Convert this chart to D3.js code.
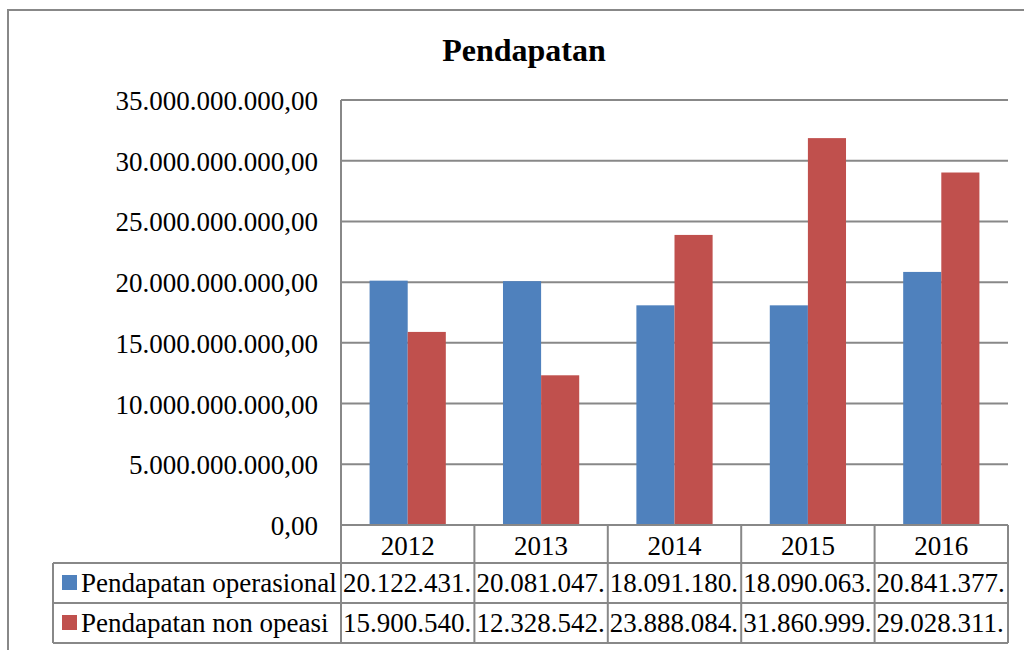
<!DOCTYPE html>
<html>
<head>
<meta charset="utf-8">
<script src="https://cdn.jsdelivr.net/npm/d3@7"></script>
<style>
  body { margin: 0; background: #fff; }
</style>
</head>
<body>
<script>
// chart data
var years = ["2012", "2013", "2014", "2015", "2016"];
var seriesNames = ["Pendapatan operasional", "Pendapatan non opeasi"];
var operasional = [20122431000, 20081047000, 18091180000, 18090063000, 20841377000];
var nonOperasi = [15900540000, 12328542000, 23888084000, 31860999000, 29028311000];
var yTicks = [0, 5e9, 10e9, 15e9, 20e9, 25e9, 30e9, 35e9];
var colors = ["#4F81BD", "#C0504D"];

var width = 1024, height = 650;
var plotLeft = 341, plotRight = 1008, plotTop = 100, plotBottom = 525;
var headH = 38, rowH = 40, labelLeft = 53;
var fs = "27px";

var svg = d3.select("body").append("svg")
    .attr("width", width)
    .attr("height", height)
    .attr("font-family", "'Liberation Serif', 'Times New Roman', serif");

// outer chart border (runs off right/bottom edge)
svg.append("rect")
    .attr("x", 8).attr("y", 10)
    .attr("width", 1040).attr("height", 660)
    .attr("fill", "#fff")
    .attr("stroke", "#888").attr("stroke-width", 2);

svg.append("text")
    .attr("x", 524).attr("y", 61)
    .attr("text-anchor", "middle")
    .style("font-size", "32px").style("font-weight", "bold")
    .text("Pendapatan");

var x = d3.scaleBand().domain(years).range([plotLeft, plotRight]);
var x1 = d3.scaleBand().domain([0, 1]).range([0, x.bandwidth()]).paddingOuter(0.75).paddingInner(0);
var y = d3.scaleLinear().domain([0, 35e9]).range([plotBottom, plotTop]);

// number format like 5.000.000.000,00
var idFormat = d3.formatLocale({decimal: ",", thousands: ".", grouping: [3], currency: ["", ""]}).format(",.2f");

// gridlines
svg.append("g").selectAll("line")
    .data(yTicks)
    .join("line")
    .attr("x1", plotLeft).attr("x2", plotRight)
    .attr("y1", function(d){ return y(d); })
    .attr("y2", function(d){ return y(d); })
    .attr("stroke", "#888").attr("stroke-width", 2);

// y axis labels
svg.append("g").selectAll("text")
    .data(yTicks)
    .join("text")
    .attr("x", 318)
    .attr("y", function(d){ return y(d) + 10; })
    .attr("text-anchor", "end")
    .style("font-size", fs)
    .text(function(d){ return idFormat(d); });

// bars
var allSeries = [operasional, nonOperasi];
allSeries.forEach(function(vals, s){
    svg.append("g").selectAll("rect")
        .data(vals)
        .join("rect")
        .attr("x", function(d, i){ return x(years[i]) + x1(s); })
        .attr("width", x1.bandwidth())
        .attr("y", function(d){ return y(d); })
        .attr("height", function(d){ return plotBottom - y(d); })
        .attr("fill", colors[s]);
});

// y axis line
svg.append("line")
    .attr("x1", plotLeft).attr("x2", plotLeft)
    .attr("y1", plotTop).attr("y2", plotBottom)
    .attr("stroke", "#888").attr("stroke-width", 2);

// data table
var tbl = svg.append("g").attr("fill", "none").attr("stroke", "#888").attr("stroke-width", 2);
var tableBottom = plotBottom + headH + rowH * 2;
tbl.append("line").attr("x1", plotLeft).attr("x2", plotRight).attr("y1", plotBottom).attr("y2", plotBottom);
tbl.append("line").attr("x1", labelLeft).attr("x2", plotRight).attr("y1", plotBottom + headH).attr("y2", plotBottom + headH);
tbl.append("line").attr("x1", labelLeft).attr("x2", plotRight).attr("y1", plotBottom + headH + rowH).attr("y2", plotBottom + headH + rowH);
tbl.append("line").attr("x1", labelLeft).attr("x2", plotRight).attr("y1", tableBottom).attr("y2", tableBottom);
tbl.append("line").attr("x1", labelLeft).attr("x2", labelLeft).attr("y1", plotBottom + headH).attr("y2", tableBottom);
tbl.selectAll(".vline")
    .data(years.concat(["end"]))
    .join("line")
    .attr("x1", function(d){ return d === "end" ? plotRight : x(d); })
    .attr("x2", function(d){ return d === "end" ? plotRight : x(d); })
    .attr("y1", plotBottom).attr("y2", tableBottom);

// year header text
svg.append("g").selectAll("text")
    .data(years)
    .join("text")
    .attr("x", function(d){ return x(d) + x.bandwidth() / 2; })
    .attr("y", plotBottom + 30)
    .attr("text-anchor", "middle")
    .style("font-size", fs)
    .text(function(d){ return d; });

// legend keys and row values
allSeries.forEach(function(vals, s){
    var rowTop = plotBottom + headH + rowH * s;
    svg.append("rect")
        .attr("x", 62).attr("y", rowTop + 12)
        .attr("width", 15).attr("height", 15)
        .attr("fill", colors[s]);
    svg.append("text")
        .attr("x", 81).attr("y", rowTop + 29)
        .style("font-size", fs)
        .text(seriesNames[s]);
    svg.append("g").selectAll("text")
        .data(vals)
        .join("text")
        .attr("x", function(d, i){ return x(years[i]) + 2; })
        .attr("y", rowTop + 29)
        .style("font-size", fs)
        .text(function(d){ return idFormat(d).slice(0, 11); }); // cell clips the rest
});
</script>
</body>
</html>
